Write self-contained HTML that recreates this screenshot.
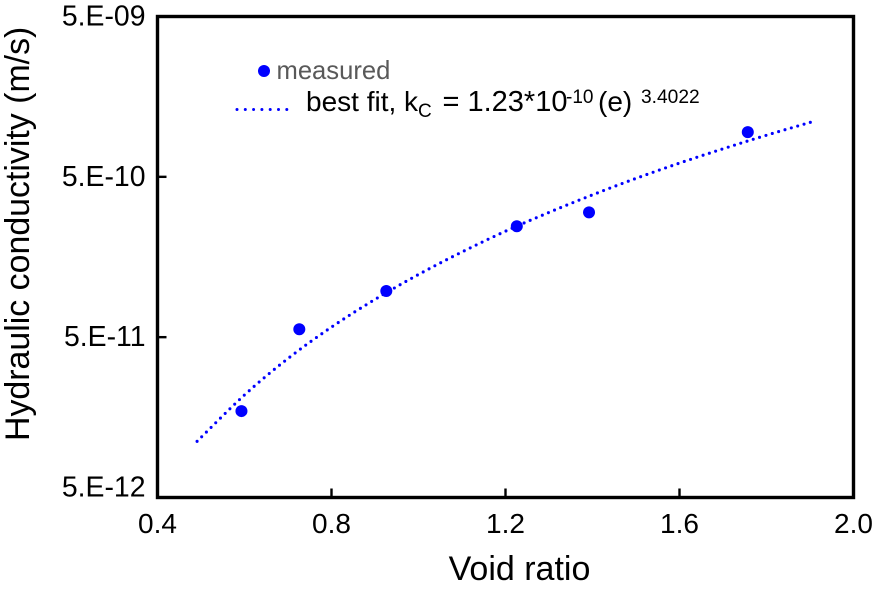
<!DOCTYPE html>
<html lang="en">
<head>
<meta charset="utf-8">
<title>Hydraulic conductivity vs void ratio</title>
<style>
html,body{margin:0;padding:0;background:#fff;width:873px;height:591px;overflow:hidden}
svg{display:block}
text{font-family:"Liberation Sans",Arial,sans-serif;fill:#000}
</style>
</head>
<body>
<svg id="chart" width="873" height="591" viewBox="0 0 873 591" xmlns="http://www.w3.org/2000/svg">
  <rect x="0" y="0" width="873" height="591" fill="#fff"/>
  <text transform="translate(29,441) rotate(-90)" font-size="33.9">Hydraulic conductivity (m/s)</text>
  <text x="519.5" y="580" font-size="34" text-anchor="middle">Void ratio</text>
  <g id="ticks"></g>
  <g id="fit"></g>
  <g id="points"></g>
  <rect x="157.5" y="16.5" width="696" height="481" fill="none" stroke="#000" stroke-width="3.4"/>
  <g>
    <circle cx="264" cy="71" r="6" fill="#0000ff"/>
    <text x="276.5" y="79" font-size="25.6" style="fill:#595959">measured</text>
    <line x1="237" y1="109.5" x2="287" y2="109.5" stroke="#0000ff" stroke-width="3" stroke-linecap="round" stroke-dasharray="0 8.3"/>
    <text x="306" y="111" font-size="28">best fit, k<tspan font-size="19" dy="6">C</tspan><tspan x="442.5" dy="-6" font-size="29">= 1.23*10</tspan><tspan x="566" font-size="19" dy="-8">-10</tspan><tspan x="598" dy="8">(e)</tspan><tspan x="641" font-size="19.2" dy="-8">3.4022</tspan></text>
  </g>
</svg>
<script>
const xTickValues = [0.4, 0.8, 1.2, 1.6, 2.0];
const xTickLabels = ["0.4", "0.8", "1.2", "1.6", "2.0"];
const yTickValues = [5e-9, 5e-10, 5e-11, 5e-12];
const yTickLabels = ["5.E-09", "5.E-10", "5.E-11", "5.E-12"];
const measuredVoidRatio = [0.593, 0.726, 0.926, 1.226, 1.392, 1.757];
const measuredConductivity = [1.73e-11, 5.6e-11, 9.7e-11, 2.46e-10, 3.0e-10, 9.5e-10];
const fitVoidRatio = [0.491, 0.6, 0.7, 0.8, 0.9, 1.0, 1.1, 1.2, 1.3, 1.4, 1.5, 1.6, 1.7, 1.8, 1.909];
const fitConductivity = [1.12e-11, 2.18e-11, 3.68e-11, 5.78e-11, 8.6e-11, 1.23e-10, 1.70e-10, 2.29e-10, 3.00e-10, 3.86e-10, 4.89e-10, 6.09e-10, 7.48e-10, 9.09e-10, 1.11e-9];

const NS = "http://www.w3.org/2000/svg";
const plot = { left: 157.5, right: 853.5, top: 16.5, bottom: 497.5 };
const xMin = 0.4, xMax = 2.0, yMin = 5e-12, yMax = 5e-9;

function xScale(v) {
  return plot.left + (v - xMin) / (xMax - xMin) * (plot.right - plot.left);
}
function yScale(v) {
  return plot.bottom - (Math.log10(v) - Math.log10(yMin)) / (Math.log10(yMax) - Math.log10(yMin)) * (plot.bottom - plot.top);
}
function make(tag, attrs, parent) {
  const el = document.createElementNS(NS, tag);
  Object.keys(attrs).forEach(function (k) { el.setAttribute(k, attrs[k]); });
  parent.appendChild(el);
  return el;
}
function smoothPath(px, py) {
  let d = "M" + px[0].toFixed(2) + " " + py[0].toFixed(2);
  for (let i = 0; i < px.length - 1; i++) {
    const a = Math.max(i - 1, 0), b = i + 1, c = Math.min(i + 2, px.length - 1);
    const c1x = px[i] + (px[b] - px[a]) / 6, c1y = py[i] + (py[b] - py[a]) / 6;
    const c2x = px[b] - (px[c] - px[i]) / 6, c2y = py[b] - (py[c] - py[i]) / 6;
    d += "C" + c1x.toFixed(2) + " " + c1y.toFixed(2) + " " + c2x.toFixed(2) + " " + c2y.toFixed(2) + " " + px[b].toFixed(2) + " " + py[b].toFixed(2);
  }
  return d;
}

const tickGroup = document.getElementById("ticks");
xTickValues.forEach(function (v, i) {
  const x = xScale(v);
  if (i > 0 && i < xTickValues.length - 1) {
    const t = make("line", { x1: x, x2: x, y1: plot.bottom, y2: plot.bottom - 9, stroke: "#000", "stroke-width": 2.4 }, tickGroup);
    
    
  }
  const l = make("text", { x: x, y: 533, "font-size": 28, "text-anchor": "middle" }, tickGroup);
  l.textContent = xTickLabels[i];
  
  
});
yTickValues.forEach(function (v, i) {
  const y = yScale(v);
  if (i > 0 && i < yTickValues.length - 1) {
    const t = make("line", { x1: plot.left, x2: plot.left + 9, y1: y, y2: y, stroke: "#000", "stroke-width": 2.4 }, tickGroup);
    
    
  }
  const l = make("text", { x: 145.5, y: Math.min(y + 9, 496.5), "font-size": 28.4, "text-anchor": "end" }, tickGroup);
  l.textContent = yTickLabels[i];
  
  
});

const fitPath = make("path", {
  d: smoothPath(fitVoidRatio.map(xScale), fitConductivity.map(yScale)),
  fill: "none", stroke: "#0000ff", "stroke-width": 3.1, "stroke-linecap": "round", "stroke-dasharray": "0 6.6"
}, document.getElementById("fit"));



const pointGroup = document.getElementById("points");
measuredVoidRatio.forEach(function (v, i) {
  const c = make("circle", { cx: xScale(v), cy: yScale(measuredConductivity[i]), r: 6, fill: "#0000ff" }, pointGroup);
  
  
});
</script>
</body>
</html>
